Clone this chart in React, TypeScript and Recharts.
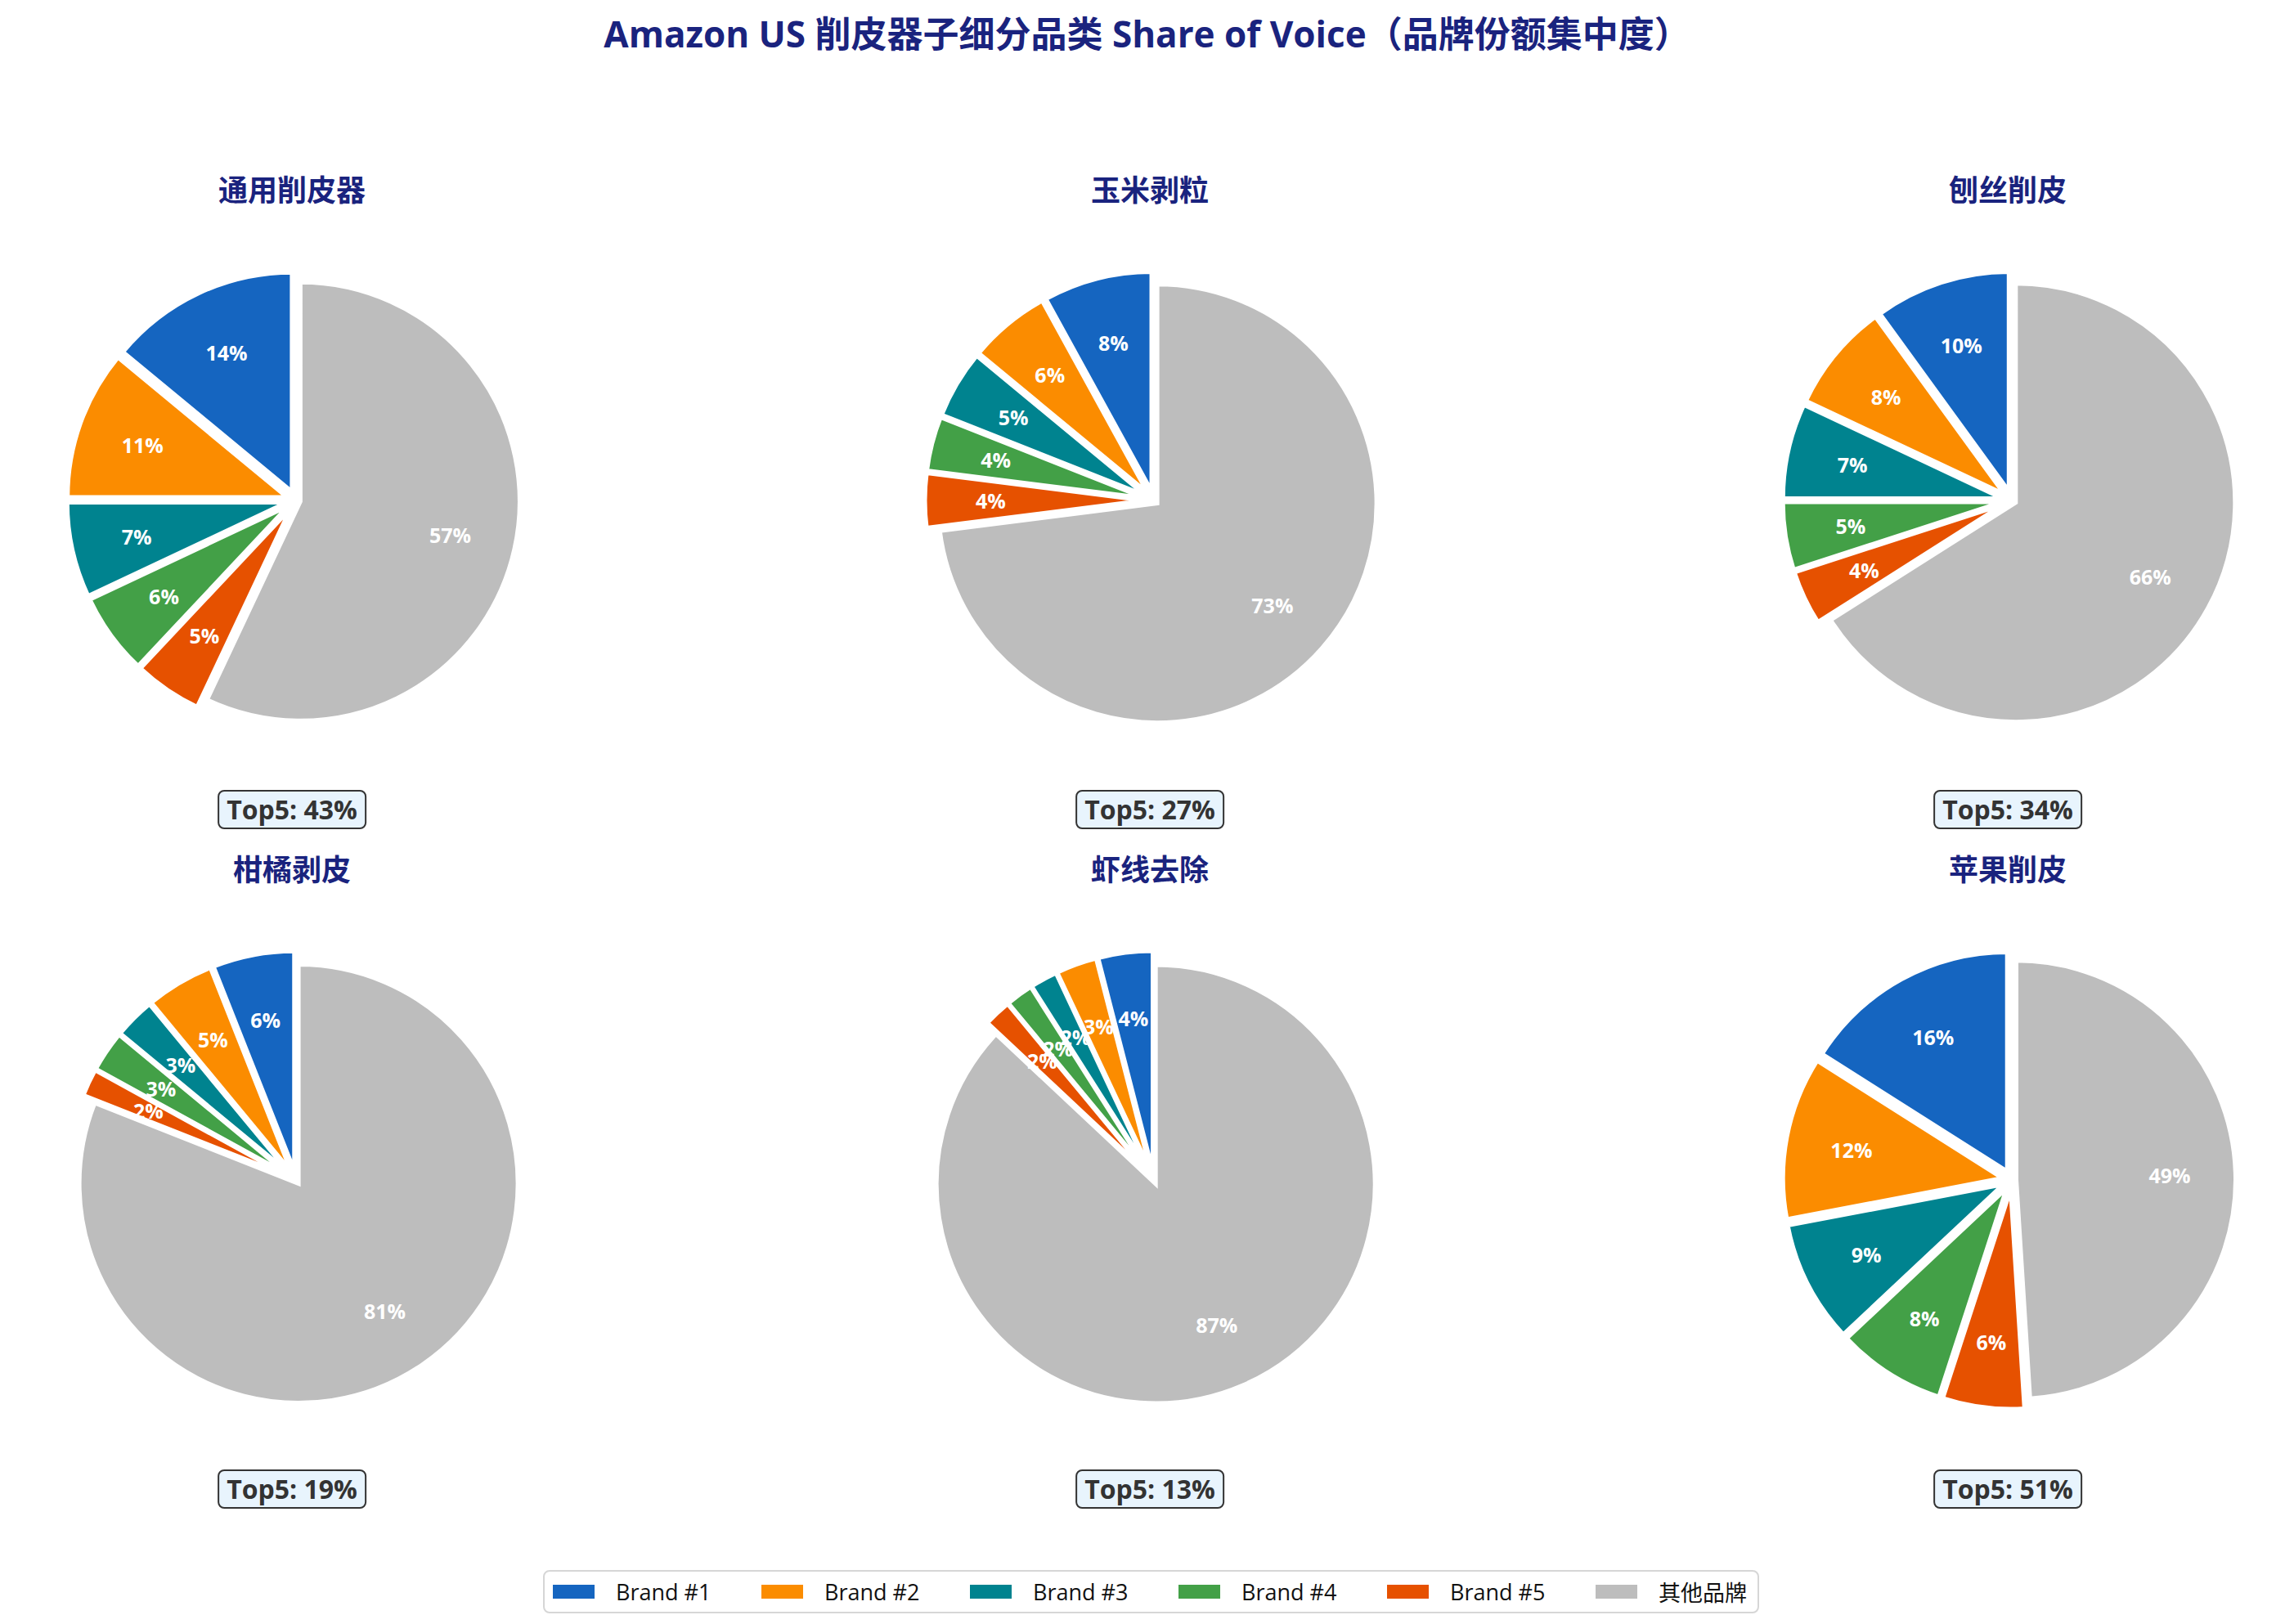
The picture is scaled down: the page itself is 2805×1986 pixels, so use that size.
import React from "react";
import { PieChart, Pie, Cell, Sector } from "recharts";

document.body.style.margin = "0";

const categories = ["通用削皮器", "玉米剥粒", "刨丝削皮", "柑橘剥皮", "虾线去除", "苹果削皮"];
const brandNames = ["Brand #1", "Brand #2", "Brand #3", "Brand #4", "Brand #5", "其他品牌"];
const brandColors = ["#1565c0", "#fb8c00", "#00838f", "#43a047", "#e65100", "#bdbdbd"];

// share (%) per category, same order as categories
const brand1 = [14, 8, 10, 6, 4, 16];
const brand2 = [11, 6, 8, 5, 3, 12];
const brand3 = [7, 5, 7, 3, 2, 9];
const brand4 = [6, 4, 5, 3, 2, 8];
const brand5 = [5, 4, 4, 2, 2, 6];
const others = [57, 73, 66, 81, 87, 49];

const series = [brand1, brand2, brand3, brand4, brand5, others];

const W = 2805;
const H = 1986;
const colX = [357, 1406, 2455];
const rowY = [607, 1438];
const R = 268;
const EXPLODE_BRAND = 12;
const EXPLODE_OTHER = 5.5;
const RAD = Math.PI / 180;
const NAVY = "#1a237e";
const FONT = "'Open Sans', 'Noto Sans CJK SC', sans-serif";

const isOther = (props: any) => props.name === "其他品牌" || props.payload?.name === "其他品牌";

const explodedSector = (props: any) => {
  const { cx, cy, midAngle, innerRadius, outerRadius, startAngle, endAngle, fill, stroke, strokeWidth } = props;
  const d = isOther(props) ? EXPLODE_OTHER : EXPLODE_BRAND;
  const dx = d * Math.cos(midAngle * RAD);
  const dy = -d * Math.sin(midAngle * RAD);
  return (
    <Sector
      cx={cx + dx}
      cy={cy + dy}
      innerRadius={innerRadius}
      outerRadius={outerRadius}
      startAngle={startAngle}
      endAngle={endAngle}
      fill={fill}
      stroke={stroke}
      strokeWidth={strokeWidth}
    />
  );
};

const pctLabel = (props: any) => {
  const { cx, cy, midAngle, outerRadius, percent } = props;
  const r = outerRadius * 0.7 + (isOther(props) ? EXPLODE_OTHER : EXPLODE_BRAND);
  const x = cx + r * Math.cos(midAngle * RAD);
  const y = cy - r * Math.sin(midAngle * RAD);
  return (
    <text
      x={x}
      y={y}
      fill="#fff"
      textAnchor="middle"
      dominantBaseline="central"
      fontSize={25}
      fontWeight="bold"
      fontFamily={FONT}
    >
      {(percent * 100).toFixed(0)}%
    </text>
  );
};

export default function App() {
  const pies = categories.map((cat, i) => ({
    cat,
    x: colX[i % 3],
    y: rowY[Math.floor(i / 3)],
    data: brandNames.map((name, b) => ({ name, value: series[b][i] })),
    top5: 100 - others[i],
  }));

  return (
    <div style={{ position: "relative", width: W, height: H, background: "#fff", fontFamily: FONT, overflow: "hidden" }}>
      <div
        style={{
          position: "absolute",
          top: 39,
          left: W / 2,
          transform: "translate(-50%, -50%)",
          fontSize: 44,
          fontWeight: "bold",
          color: NAVY,
          whiteSpace: "nowrap",
        }}
      >
        Amazon US 削皮器子细分品类 Share of Voice（品牌份额集中度）
      </div>

      <PieChart width={W} height={H} style={{ position: "absolute", left: 0, top: 0 }}>
        {pies.map((p) => (
          <Pie
            key={p.cat}
            data={p.data}
            dataKey="value"
            nameKey="name"
            cx={p.x}
            cy={p.y}
            outerRadius={R}
            startAngle={90}
            endAngle={450}
            stroke="#fff"
            strokeWidth={5}
            label={pctLabel}
            labelLine={false}
            shape={explodedSector}
            inactiveShape={explodedSector}
            activeShape={explodedSector}
            isAnimationActive={false}
          >
            {p.data.map((d, b) => (
              <Cell key={d.name} fill={brandColors[b]} />
            ))}
          </Pie>
        ))}
      </PieChart>

      {pies.map((p) => (
        <React.Fragment key={p.cat + "-text"}>
          <div
            style={{
              position: "absolute",
              left: p.x,
              top: p.y - 377,
              transform: "translate(-50%, -50%)",
              fontSize: 36,
              fontWeight: "bold",
              color: NAVY,
              whiteSpace: "nowrap",
            }}
          >
            {p.cat}
          </div>
          <div
            style={{
              position: "absolute",
              left: p.x,
              top: p.y + 383,
              transform: "translate(-50%, -50%)",
              fontSize: 32,
              fontWeight: "bold",
              color: "#333",
              background: "#e8f4fd",
              border: "2.5px solid #333",
              borderRadius: 8,
              padding: "0px 9px",
              lineHeight: "44px",
              whiteSpace: "nowrap",
            }}
          >
            Top5: {p.top5}%
          </div>
        </React.Fragment>
      ))}

      <div
        style={{
          position: "absolute",
          left: 664,
          top: 1920,
          width: 1487,
          height: 53,
          boxSizing: "border-box",
          border: "2px solid #d6d6d6",
          borderRadius: 8,
          display: "flex",
          alignItems: "center",
          paddingLeft: 10,
        }}
      >
        {brandNames.map((name, b) => (
          <div key={name} style={{ display: "flex", alignItems: "center", width: b < 5 ? 255 : "auto" }}>
            <div style={{ width: 51, height: 17, background: brandColors[b], marginRight: 26 }} />
            <span style={{ fontSize: 27, color: "#111", whiteSpace: "nowrap" }}>{name}</span>
          </div>
        ))}
      </div>
    </div>
  );
}
